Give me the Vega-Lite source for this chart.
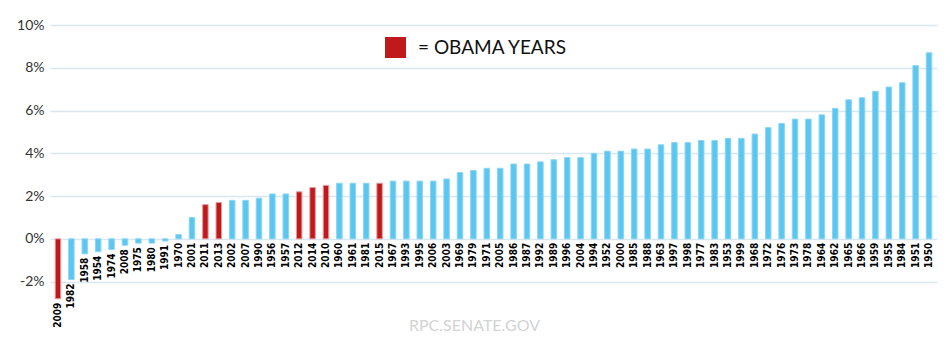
{
  "$schema": "https://vega.github.io/schema/vega-lite/v6.json",
  "width": 887,
  "height": 278,
  "autosize": {"type": "none"},
  "padding": {"left": 50, "top": 25, "right": 14, "bottom": 47},
  "background": "white",
  "config": {"view": {"stroke": null}, "font": "Lato"},
  "title": {
    "text": "RPC.SENATE.GOV",
    "orient": "bottom",
    "anchor": "middle",
    "offset": -10,
    "dx": -19,
    "fontSize": 16,
    "font": "Lato",
    "fontWeight": "normal",
    "color": "#d3d3d3"
  },
  "data": {
    "values": [
      {"year": "2009", "growth": -2.8},
      {"year": "1982", "growth": -1.9},
      {"year": "1958", "growth": -0.7},
      {"year": "1954", "growth": -0.6},
      {"year": "1974", "growth": -0.5},
      {"year": "2008", "growth": -0.3},
      {"year": "1975", "growth": -0.2},
      {"year": "1980", "growth": -0.2},
      {"year": "1991", "growth": -0.1},
      {"year": "1970", "growth": 0.2},
      {"year": "2001", "growth": 1.0},
      {"year": "2011", "growth": 1.6},
      {"year": "2013", "growth": 1.7},
      {"year": "2002", "growth": 1.8},
      {"year": "2007", "growth": 1.8},
      {"year": "1990", "growth": 1.9},
      {"year": "1956", "growth": 2.1},
      {"year": "1957", "growth": 2.1},
      {"year": "2012", "growth": 2.2},
      {"year": "2014", "growth": 2.4},
      {"year": "2010", "growth": 2.5},
      {"year": "1960", "growth": 2.6},
      {"year": "1961", "growth": 2.6},
      {"year": "1981", "growth": 2.6},
      {"year": "2015", "growth": 2.6},
      {"year": "1967", "growth": 2.7},
      {"year": "1993", "growth": 2.7},
      {"year": "1995", "growth": 2.7},
      {"year": "2006", "growth": 2.7},
      {"year": "2003", "growth": 2.8},
      {"year": "1969", "growth": 3.1},
      {"year": "1979", "growth": 3.2},
      {"year": "1971", "growth": 3.3},
      {"year": "2005", "growth": 3.3},
      {"year": "1986", "growth": 3.5},
      {"year": "1987", "growth": 3.5},
      {"year": "1992", "growth": 3.6},
      {"year": "1989", "growth": 3.7},
      {"year": "1996", "growth": 3.8},
      {"year": "2004", "growth": 3.8},
      {"year": "1994", "growth": 4.0},
      {"year": "1952", "growth": 4.1},
      {"year": "2000", "growth": 4.1},
      {"year": "1985", "growth": 4.2},
      {"year": "1988", "growth": 4.2},
      {"year": "1963", "growth": 4.4},
      {"year": "1997", "growth": 4.5},
      {"year": "1998", "growth": 4.5},
      {"year": "1977", "growth": 4.6},
      {"year": "1983", "growth": 4.6},
      {"year": "1953", "growth": 4.7},
      {"year": "1999", "growth": 4.7},
      {"year": "1968", "growth": 4.9},
      {"year": "1972", "growth": 5.2},
      {"year": "1976", "growth": 5.4},
      {"year": "1973", "growth": 5.6},
      {"year": "1978", "growth": 5.6},
      {"year": "1964", "growth": 5.8},
      {"year": "1962", "growth": 6.1},
      {"year": "1965", "growth": 6.5},
      {"year": "1966", "growth": 6.6},
      {"year": "1959", "growth": 6.9},
      {"year": "1955", "growth": 7.1},
      {"year": "1984", "growth": 7.3},
      {"year": "1951", "growth": 8.1},
      {"year": "1950", "growth": 8.7}
    ]
  },
  "transform": [
    {"calculate": "toNumber(datum.year) >= 2009 ? 'Obama' : 'Other'", "as": "era"},
    {"calculate": "min(datum.growth, 0)", "as": "labelY"}
  ],
  "encoding": {
    "x": {
      "field": "year",
      "type": "nominal",
      "sort": null,
      "axis": null,
      "scale": {"paddingInner": 0.59, "paddingOuter": 0.39}
    }
  },
  "layer": [
    {
      "mark": {"type": "bar", "strokeWidth": 1},
      "encoding": {
        "y": {
          "field": "growth",
          "type": "quantitative",
          "scale": {"domain": [-3, 10], "nice": false, "zero": true},
          "axis": {
            "title": null,
            "values": [-2, 0, 2, 4, 6, 8, 10],
            "labelExpr": "datum.value + '%'",
            "domain": false,
            "ticks": false,
            "labelPadding": 6,
            "labelFont": "Lato",
            "labelFontSize": 14,
            "labelColor": "#333333",
            "gridColor": "#dbe7ee",
            "gridWidth": 1.5
          }
        },
        "color": {
          "field": "era",
          "type": "nominal",
          "scale": {"domain": ["Obama", "Other"], "range": ["#c0191b", "#5bc6ef"]},
          "legend": {
            "values": ["Obama"],
            "orient": "none",
            "legendX": 335,
            "legendY": 12,
            "title": null,
            "padding": 0,
            "symbolType": "square",
            "symbolSize": 441,
            "symbolStrokeWidth": 0,
            "symbolOpacity": 1,
            "labelExpr": "'= OBAMA YEARS'",
            "labelFont": "Lato",
            "labelFontSize": 19,
            "labelColor": "#111111",
            "labelOffset": 12
          }
        },
        "stroke": {
          "field": "era",
          "type": "nominal",
          "scale": {"domain": ["Obama", "Other"], "range": ["#e49a9a", "#8ad6f3"]},
          "legend": null
        }
      }
    },
    {
      "mark": {
        "type": "text",
        "angle": 270,
        "align": "right",
        "baseline": "middle",
        "dx": -4,
        "font": "DejaVu Sans Condensed, DejaVu Sans",
        "fontSize": 10,
        "fontWeight": "bold",
        "color": "#000000"
      },
      "encoding": {
        "y": {"field": "labelY", "type": "quantitative"},
        "text": {"field": "year"}
      }
    }
  ]
}
